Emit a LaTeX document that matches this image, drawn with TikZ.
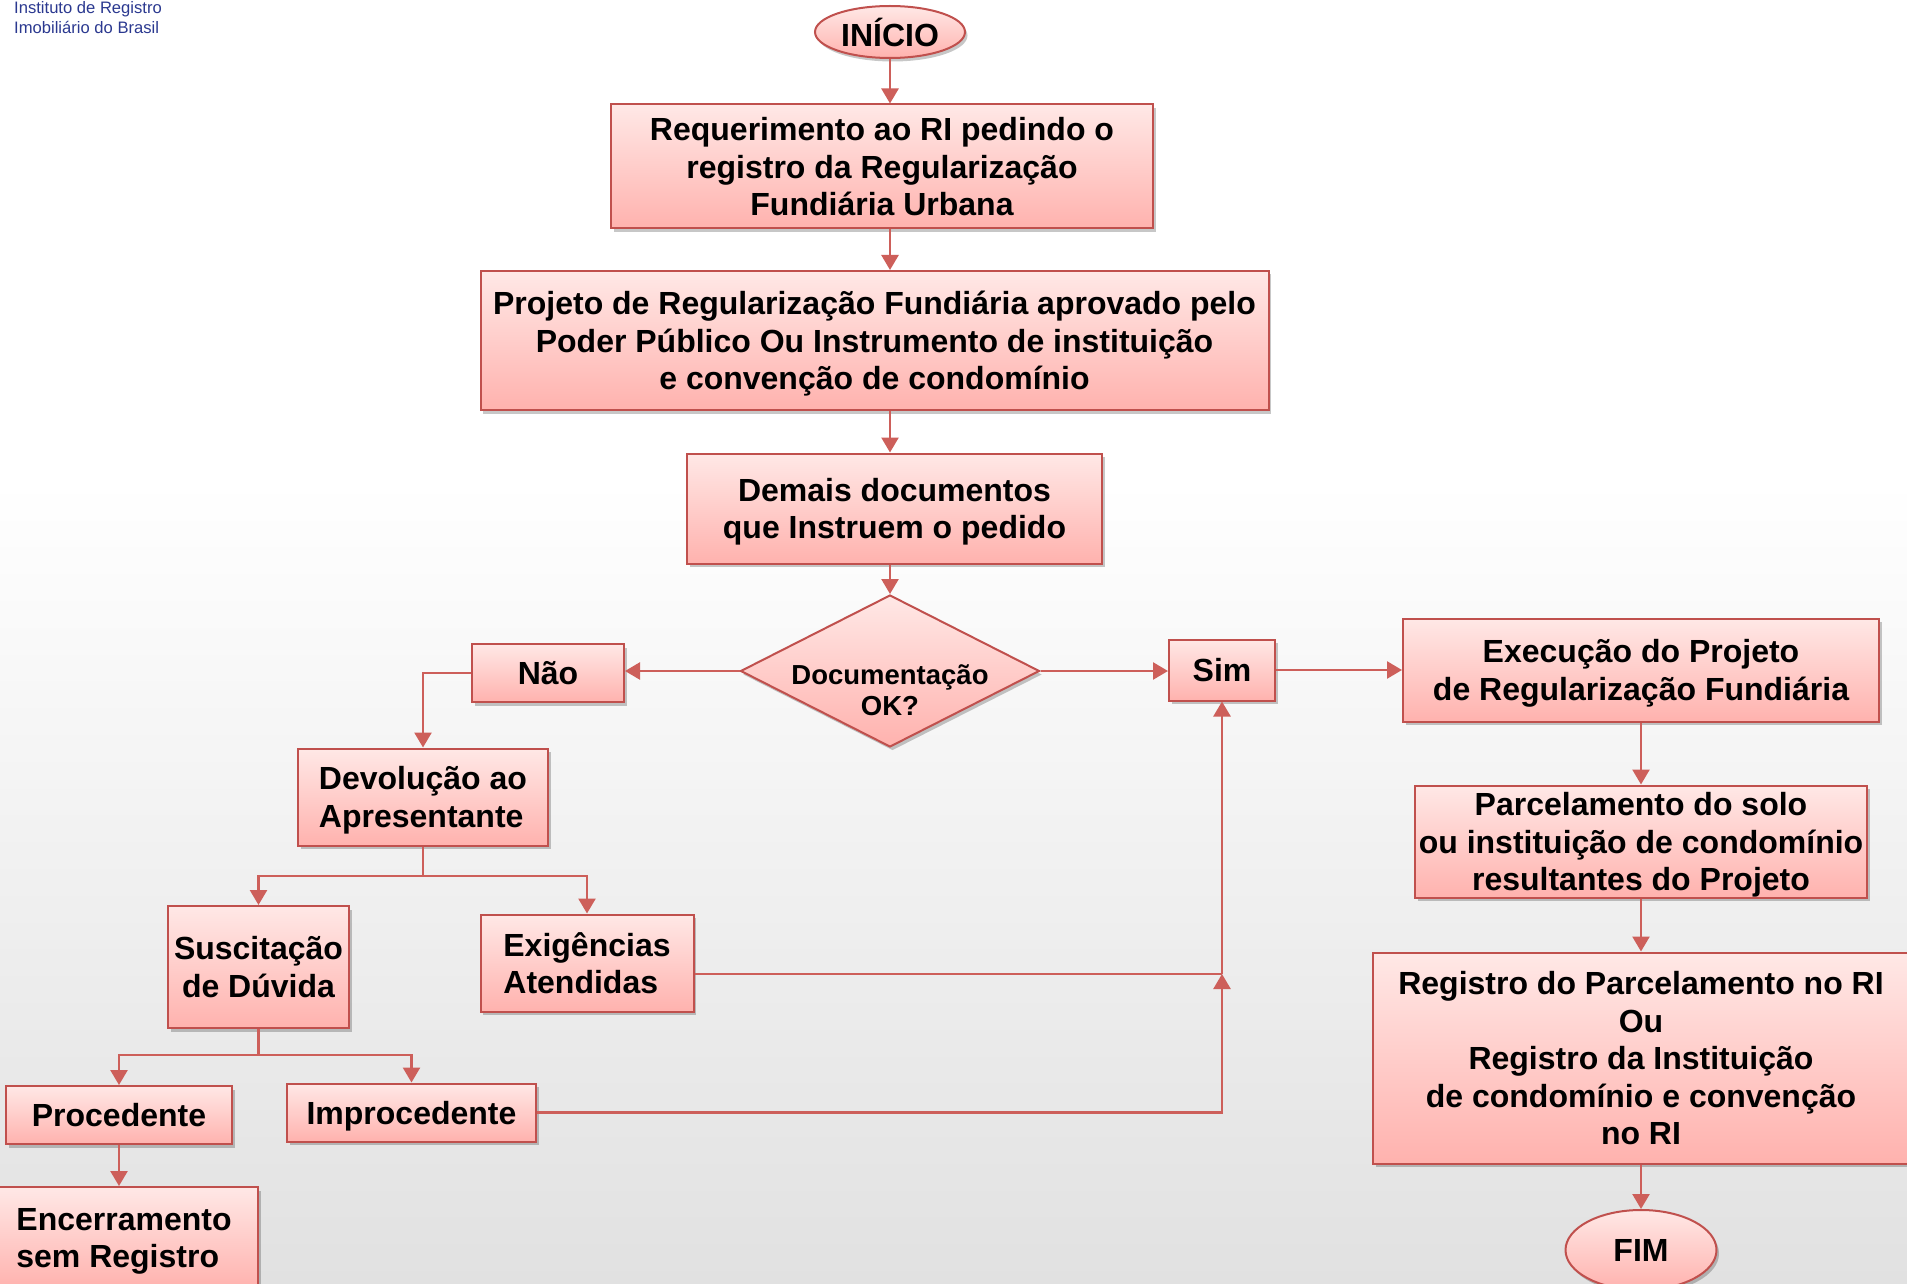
\documentclass[tikz,border=0pt]{standalone}
\usepackage{fontspec}
\setmainfont{Liberation Sans}
\usetikzlibrary{shapes.geometric,arrows.meta,shadows}
\definecolor{bord}{RGB}{192,80,77}
\definecolor{linec}{RGB}{205,95,90}
\definecolor{ptop}{RGB}{255,232,230}
\definecolor{pbot}{RGB}{255,178,174}
\definecolor{logoblue}{RGB}{43,57,144}
\definecolor{bggray}{RGB}{225,225,225}
\tikzset{
  shad/.style={drop shadow={shadow xshift=2.5pt,shadow yshift=-3.5pt,opacity=0.22,fill=black}},
  box/.style={rectangle,draw=bord,line width=2pt,top color=ptop,bottom color=pbot,
    inner sep=0pt,align=center,text depth=0pt,font=\fontsize{32}{37.5}\selectfont\bfseries,shad},
  lbox/.style={box,align=left},
  term/.style={ellipse,draw=bord,line width=2pt,top color=ptop,bottom color=pbot,
    inner sep=0pt,font=\fontsize{32}{38}\selectfont\bfseries,shad},
  dia/.style={diamond,draw=bord,line width=2pt,top color=ptop,bottom color=pbot,
    inner sep=0pt,shad},
  conn/.style={draw=linec,line width=2.5pt},
  arr/.style={conn,-{Triangle[length=15pt,width=17pt]}}
}
\begin{document}
\begin{tikzpicture}[x=1pt,y=-1pt]
\useasboundingbox (0,0) rectangle (1907,1284);
\clip (0,0) rectangle (1907,1284);
\fill[white] (0,0) rectangle (1907,480);
\shade[top color=white,bottom color=bggray] (0,480) rectangle (1907,1284);

% logo text
\node[anchor=north west,align=left,inner sep=0pt,text=logoblue,
  font=\fontsize{16.6}{20}\selectfont] (logo) at (14,1) {Instituto de Registro\\Imobiliário do Brasil};

% nodes
\node[term,minimum width=150,minimum height=52] (start) at (890,32) {INÍCIO};
\node[box,minimum width=542,minimum height=124] (req) at (882,166.5)
  {Requerimento ao RI pedindo o\\registro da Regularização\\Fundiária Urbana};
\node[box,minimum width=788,minimum height=139] (proj) at (874.5,340.5)
  {Projeto de Regularização Fundiária aprovado pelo\\Poder Público Ou Instrumento de instituição\\e convenção de condomínio};
\node[box,minimum width=415,minimum height=110] (dem) at (894.5,508.5)
  {Demais documentos\\que Instruem o pedido};
\node[dia,minimum width=299,minimum height=152] (dec) at (890,671) {};
\node[align=center,inner sep=0pt,font=\fontsize{27.5}{31.5}\selectfont\bfseries] (dectxt) at (890,690)
  {Documentação\\OK?};
\node[box,minimum width=152,minimum height=58] (nao) at (548,673) {Não};
\node[box,minimum width=106,minimum height=61] (sim) at (1222,670) {Sim};
\node[box,minimum width=476,minimum height=103] (exe) at (1641,670)
  {Execução do Projeto\\de Regularização Fundiária};
\node[lbox,minimum width=250,minimum height=97] (dev) at (423,797)
  {Devolução ao\\Apresentante};
\node[box,minimum width=452,minimum height=112] (parc) at (1641,841.5)
  {Parcelamento do solo\\ou instituição de condomínio\\resultantes do Projeto};
\node[box,minimum width=181,minimum height=122] (sus) at (258.5,967)
  {Suscitação\\de Dúvida};
\node[lbox,minimum width=213,minimum height=97] (exi) at (587,963)
  {Exigências\\Atendidas};
\node[box,minimum width=536,minimum height=211] (reg) at (1641,1058)
  {Registro do Parcelamento no RI\\Ou\\Registro da Instituição\\de condomínio e convenção\\no RI};
\node[term,minimum width=151,minimum height=80] (fim) at (1641,1250) {FIM};
\node[box,minimum width=226,minimum height=58] (proc) at (119,1115) {Procedente};
\node[box,minimum width=249,minimum height=58] (imp) at (411.5,1112.5) {Improcedente};
\node[lbox,minimum width=268,minimum height=102] (enc) at (124,1238)
  {Encerramento\\sem Registro};

% connectors
\draw[arr] (start.south) -- (start.south |- req.north);
\draw[arr] (req.south -| start) -- (proj.north -| start);
\draw[arr] (proj.south -| start) -- (dem.north -| start);
\draw[arr] (dem.south -| start) -- (dec.north);
\draw[arr] (dec.west) -- (dec.west -| nao.east);
\draw[arr] (dec.east) -- (dec.east -| sim.west);
\draw[arr] (sim.east) -- (sim.east -| exe.west);
\draw[arr] (exe.south) -- (parc.north);
\draw[arr] (parc.south) -- (reg.north);
\draw[arr] (reg.south) -- (fim.north);
\draw[arr] (nao.west) -| (dev.north);
\coordinate (j1) at (423,876);
\draw[arr] (dev.south) -- (j1) -| (sus.north);
\draw[arr] (j1) -| (exi.north);
\coordinate (j2) at (258.5,1055);
\draw[arr] (sus.south) -- (j2) -| (proc.north);
\draw[arr] (j2) -| (imp.north);
\draw[arr] (proc.south) -- (proc.south |- enc.north);
\coordinate (j3) at (1222,974);
\draw[conn] (exi.east |- j3) -- (j3);
\draw[arr] (j3) -- (j3 |- sim.south);
\draw[arr] (imp.east) -| (j3);
\end{tikzpicture}
\end{document}
